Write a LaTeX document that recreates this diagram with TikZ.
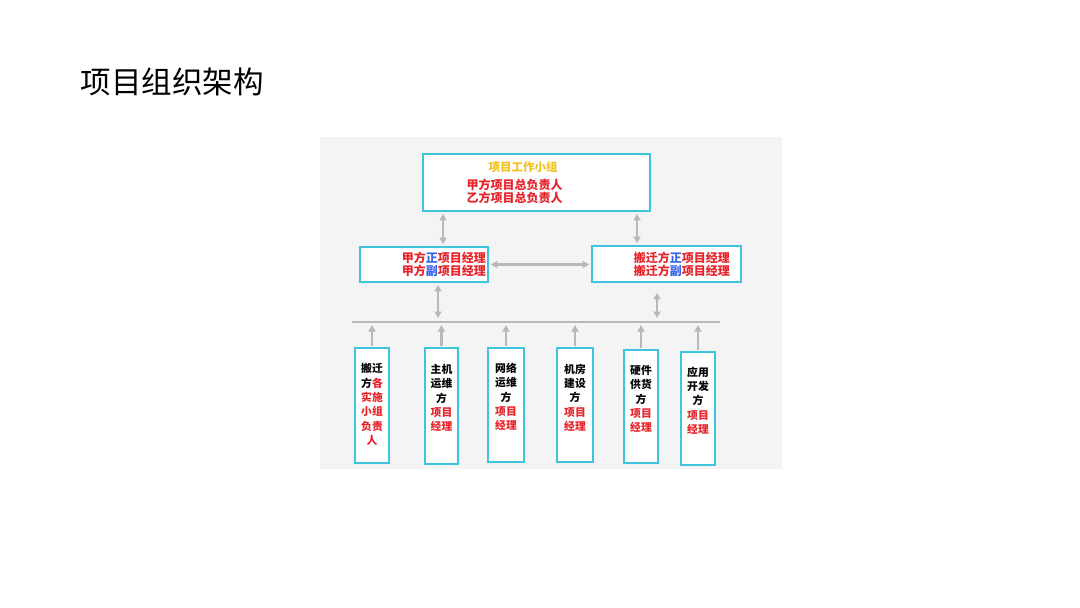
\documentclass[tikz,border=0pt]{standalone}
\usepackage{fontspec}
\setmainfont{Noto Sans CJK SC}
\usetikzlibrary{arrows.meta}
\definecolor{cyb}{HTML}{3EC4DD}
\definecolor{rd}{HTML}{E8232B}
\definecolor{bl}{HTML}{3A66E6}
\definecolor{yl}{HTML}{F2C21C}
\definecolor{ag}{HTML}{B8B8B8}
\definecolor{bgc}{HTML}{F4F4F4}
\begin{document}
\begin{tikzpicture}[x=1pt,y=-1pt,
  box/.style={draw=cyb, line width=1.8pt, fill=white, inner sep=0pt, rectangle},
  gdbl/.style={draw=ag, line width=2.2pt, {Triangle[width=7pt,length=6.5pt]}-{Triangle[width=7pt,length=6.5pt]}},
  gup/.style={draw=ag, line width=2.2pt, -{Triangle[width=7pt,length=6.5pt]}},
  midtxt/.style={font=\bfseries\fontsize{12}{13.5}\selectfont, text=rd, inner sep=0pt, align=right, anchor=east},
  lowtxt/.style={font=\bfseries\fontsize{10.8}{14.3}\selectfont, inner sep=0pt, align=center}
]
\useasboundingbox (0,0) rectangle (1080,608);
\fill[white] (0,0) rectangle (1080,608);
\node[anchor=west, inner sep=0pt, font=\fontsize{30.5}{33}\selectfont] (title) at (80.5,82) {项目组织架构};
% picture background
\fill[bgc] (320,137) rectangle (782,469);
% boxes
\node[box, minimum width=227pt, minimum height=57pt] (top) at (536.5,182.5) {};
\node[box, minimum width=128pt, minimum height=35pt] (lm) at (424,264.5) {};
\node[box, minimum width=149pt, minimum height=36pt] (rm) at (666.5,264) {};
\node[box, minimum width=34pt, minimum height=115pt] (b1) at (372,405.5) {};
\node[box, minimum width=33pt, minimum height=116pt] (b2) at (441.5,406) {};
\node[box, minimum width=36pt, minimum height=114pt] (b3) at (506,405) {};
\node[box, minimum width=36pt, minimum height=114pt] (b4) at (575,405) {};
\node[box, minimum width=34pt, minimum height=113pt] (b5) at (641,406.5) {};
\node[box, minimum width=34pt, minimum height=113pt] (b6) at (698,408.5) {};
% texts
\node[inner sep=0pt, text=yl, font=\bfseries\fontsize{11.5}{13}\selectfont] (t0) at (523,167) {项目工作小组};
\node[inner sep=0pt, text=rd, align=center, font=\bfseries\fontsize{12}{13.5}\selectfont] (t1) at (514.5,191.5) {甲方项目总负责人\\乙方项目总负责人};
\node[midtxt] (lmt) at (486,264.5) {甲方{\color{bl}正}项目经理\\甲方{\color{bl}副}项目经理};
\node[midtxt] (rmt) at (730,264.5) {搬迁方{\color{bl}正}项目经理\\搬迁方{\color{bl}副}项目经理};
\node[lowtxt] (b1t) at (372,404.5) {搬迁\\方{\color{rd}各}\\{\color{rd}实施}\\{\color{rd}小组}\\{\color{rd}负责}\\{\color{rd}人}};
\node[lowtxt] (b2t) at (441.5,398) {主机\\运维\\方\\{\color{rd}项目}\\{\color{rd}经理}};
\node[lowtxt] (b3t) at (506,397) {网络\\运维\\方\\{\color{rd}项目}\\{\color{rd}经理}};
\node[lowtxt] (b4t) at (575,397.5) {机房\\建设\\方\\{\color{rd}项目}\\{\color{rd}经理}};
\node[lowtxt] (b5t) at (641,399) {硬件\\供货\\方\\{\color{rd}项目}\\{\color{rd}经理}};
\node[lowtxt] (b6t) at (698,400.5) {应用\\开发\\方\\{\color{rd}项目}\\{\color{rd}经理}};
% bus
\coordinate (busL) at (352,322);
\coordinate (busR) at (720,322);
\draw[ag, line width=1.6pt] (busL) -- (busR);
% connector x positions
\coordinate (xa) at (443,0);
\coordinate (xb) at (637,0);
\coordinate (xc) at (438,0);
\coordinate (xd) at (657,0);
\draw[gdbl, shorten <=2pt, shorten >=2pt] (top.south -| xa) -- (lm.north -| xa);
\draw[gdbl, shorten <=2pt, shorten >=2pt] (top.south -| xb) -- (rm.north -| xb);
\draw[gdbl, shorten <=2pt, shorten >=2pt] (lm.east) -- (lm.east -| rm.west);
\draw[gdbl, shorten <=2pt, shorten >=4pt] (lm.south -| xc) -- (busL -| xc);
\draw[gdbl, shorten <=10pt, shorten >=4pt] (rm.south -| xd) -- (busL -| xd);
\foreach \b in {b1,b2,b3,b4,b5,b6}{
  \draw[gup, shorten <=1pt, shorten >=3pt] (\b.north) -- (busL -| \b.north);
}
\end{tikzpicture}
\end{document}
